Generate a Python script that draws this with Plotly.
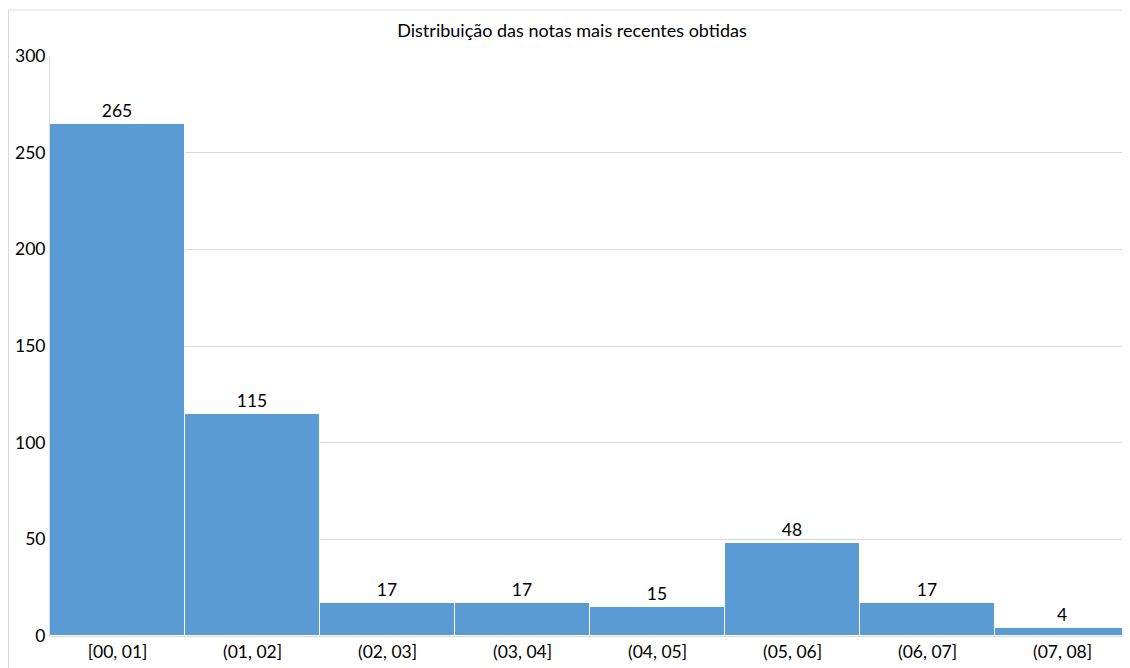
import plotly.graph_objects as go

categories = ["[00, 01]", "(01, 02]", "(02, 03]", "(03, 04]", "(04, 05]", "(05, 06]", "(06, 07]", "(07, 08]"]
counts = [265, 115, 17, 17, 15, 48, 17, 4]
y_ticks = [0, 50, 100, 150, 200, 250, 300]
title_text = "Distribuição das notas mais recentes obtidas"

FONT = "Lato, 'Open Sans', sans-serif"
GRID = "#d9d9d9"

W, H = 1114, 660
L, R, T, B = 42, 0, 48, 32
PW, PH = W - L - R, H - T - B

fig = go.Figure(
    go.Bar(
        x=categories,
        y=counts,
        marker=dict(color="#5B9BD5", line=dict(color="white", width=1)),
        text=[str(v) for v in counts],
        textposition="outside",
        textfont=dict(family=FONT, size=17.5, color="#000000"),
        cliponaxis=False,
        width=1,
    )
)

frame_left = (0.5 - L) / PW
frame_top = (H - B - 2) / PH

fig.update_layout(
    width=W,
    height=H,
    margin=dict(l=L, r=R, t=T, b=B),
    paper_bgcolor="white",
    plot_bgcolor="white",
    bargap=0,
    showlegend=False,
    font=dict(family=FONT, color="#000000"),
    title=dict(
        text=title_text,
        x=564 / W,
        xanchor="center",
        y=1 - 23 / H,
        yanchor="middle",
        font=dict(family=FONT, size=18, color="#000000"),
    ),
    xaxis=dict(
        showgrid=False,
        showline=True,
        linecolor=GRID,
        linewidth=1,
        ticks="",
        tickfont=dict(family=FONT, size=17.5, color="#000000"),
        range=[-0.5, -0.5 + PW / 135],
    ),
    yaxis=dict(
        range=[0, 300],
        tickvals=y_ticks,
        showgrid=True,
        gridcolor=GRID,
        gridwidth=1,
        showline=True,
        linecolor=GRID,
        linewidth=1,
        zeroline=False,
        ticks="",
        tickfont=dict(family=FONT, size=17.5, color="#000000"),
    ),
    shapes=[
        dict(type="line", xref="paper", yref="paper",
             x0=frame_left, x1=frame_left, y0=-0.5, y1=frame_top,
             line=dict(color=GRID, width=1), layer="below"),
        dict(type="line", xref="paper", yref="paper",
             x0=frame_left, x1=1.5, y0=frame_top, y1=frame_top,
             line=dict(color=GRID, width=1), layer="below"),
    ],
)

fig.write_html("out.html")
